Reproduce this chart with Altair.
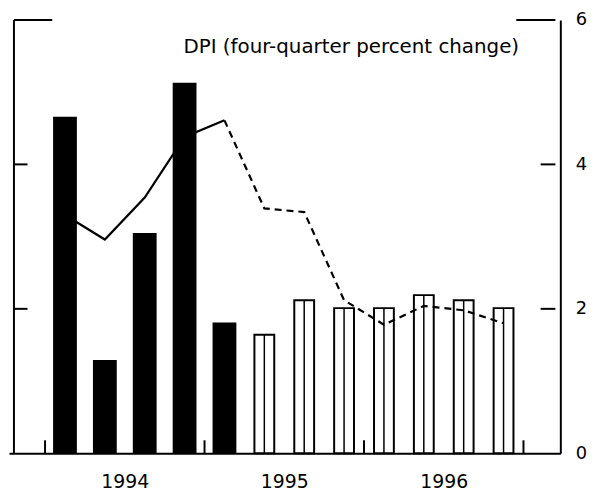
import altair as alt
import pandas as pd

# ---- data ----
quarter_labels = ["1994Q1", "1994Q2", "1994Q3", "1994Q4",
                  "1995Q1", "1995Q2", "1995Q3", "1995Q4",
                  "1996Q1", "1996Q2", "1996Q3", "1996Q4"]
quarter_pos = [0.5, 1.5, 2.5, 3.5, 4.5, 5.5, 6.5, 7.5, 8.5, 9.5, 10.5, 11.5]

# bars: actual (solid) then projected (hollow)
bar_values = [4.66, 1.29, 3.05, 5.13, 1.81, 1.64, 2.12, 2.01, 2.01, 2.19, 2.12, 2.01]
bar_kind = ["actual"] * 5 + ["projected"] * 7

# DPI four-quarter percent change (line)
dpi_values = [3.30, 2.96, 3.54, 4.38, 4.61, 3.39, 3.34, 2.12, 1.78, 2.04, 1.98, 1.80]
dpi_last_actual = 4  # index of last solid-line point

years = ["1994", "1995", "1996"]
year_pos = [2, 6, 10]
year_edges = [0, 4, 8, 12]
y_ticks = [0, 2, 4, 6]

X_DOMAIN = [-0.78, 12.8]
Y_DOMAIN = [0, 6]
FONT = "DejaVu Sans"

bars = pd.DataFrame({"q": quarter_labels, "x": quarter_pos, "v": bar_values, "kind": bar_kind})
line_solid = pd.DataFrame({"x": quarter_pos[:dpi_last_actual + 1], "v": dpi_values[:dpi_last_actual + 1]})
line_dash = pd.DataFrame({"x": quarter_pos[dpi_last_actual:], "v": dpi_values[dpi_last_actual:]})

xs = alt.Scale(domain=X_DOMAIN, nice=False, zero=False)
ys = alt.Scale(domain=Y_DOMAIN, nice=False, zero=False)

label_expr = " : ".join(
    [f"datum.value == {p} ? '{y}'" for p, y in zip(year_pos, years)]) + " : ''"

x_axis = alt.Axis(values=year_pos, labelExpr=label_expr, title=None, ticks=False,
                  domain=True, domainColor="black", domainWidth=2,
                  labelFont=FONT, labelFontSize=19, labelColor="black",
                  labelPadding=19, grid=False)
y_axis = alt.Axis(orient="right", values=y_ticks, title=None, ticks=False,
                  domain=True, domainColor="black", domainWidth=2,
                  labelFont=FONT, labelFontSize=18, labelColor="black",
                  labelPadding=15, grid=False, format="d")

base = alt.Chart(bars)

solid = base.transform_filter("datum.kind == 'actual'").mark_bar(
    color="black", size=24
).encode(
    x=alt.X("x:Q", scale=xs, axis=x_axis),
    y=alt.Y("v:Q", scale=ys, axis=y_axis),
)

hollow = base.transform_filter("datum.kind == 'projected'").mark_bar(
    fill="white", stroke="black", strokeWidth=2, size=20
).encode(
    x=alt.X("x:Q", scale=xs),
    y=alt.Y("v:Q", scale=ys),
)

hollow_mid = base.transform_filter("datum.kind == 'projected'").mark_rule(
    color="black", strokeWidth=1.5
).encode(
    x=alt.X("x:Q", scale=xs),
    y=alt.Y("v:Q", scale=ys),
    y2=alt.datum(0),
)

line1 = alt.Chart(line_solid).mark_line(color="black", strokeWidth=2.2).encode(
    x=alt.X("x:Q", scale=xs), y=alt.Y("v:Q", scale=ys))
line2 = alt.Chart(line_dash).mark_line(color="black", strokeWidth=2.2, strokeDash=[7, 5]).encode(
    x=alt.X("x:Q", scale=xs), y=alt.Y("v:Q", scale=ys))

# frame: left edge, partial top edge, inward ticks
frame = pd.DataFrame({
    "x":  [X_DOMAIN[0], X_DOMAIN[0], 11.82, X_DOMAIN[0], X_DOMAIN[0], 12.43, 12.43],
    "x2": [X_DOMAIN[0], 0.18, X_DOMAIN[1], -0.44, -0.44, X_DOMAIN[1], X_DOMAIN[1]],
    "y":  [0, 6, 6, 2, 4, 2, 4],
    "y2": [6, 6, 6, 2, 4, 2, 4],
})
frame_rules = alt.Chart(frame).mark_rule(color="black", strokeWidth=2).encode(
    x=alt.X("x:Q", scale=xs), x2="x2:Q",
    y=alt.Y("y:Q", scale=ys), y2="y2:Q")

edge_df = pd.DataFrame({"x": year_edges})
edge_ticks = alt.Chart(edge_df).mark_rule(color="black", strokeWidth=2).encode(
    x=alt.X("x:Q", scale=xs), y=alt.datum(0, scale=ys), y2=alt.datum(0.18))

title_df = pd.DataFrame({"x": [7.68], "y": [5.62], "t": ["DPI (four-quarter percent change)"]})
title = alt.Chart(title_df).mark_text(font=FONT, fontSize=20, color="black",
                                      align="center", baseline="middle").encode(
    x=alt.X("x:Q", scale=xs), y=alt.Y("y:Q", scale=ys), text="t:N")

chart = alt.layer(hollow, hollow_mid, solid, line1, line2, frame_rules, edge_ticks, title).properties(
    width=556, height=437, background="white",
    autosize=alt.AutoSizeParams(type="none"),
    padding={"left": 1, "top": 10, "right": 40, "bottom": 39},
).configure_view(stroke=None).configure_axis(grid=False)

chart.save("out.html", embed_options={"renderer": "svg", "actions": False})
